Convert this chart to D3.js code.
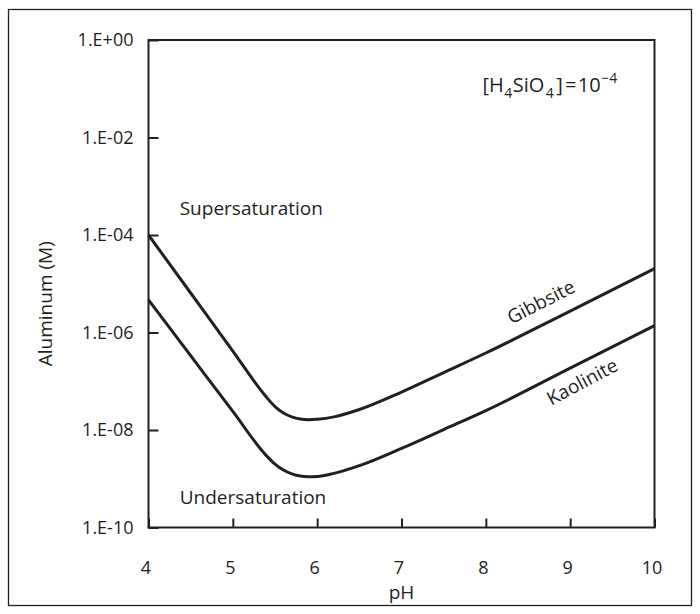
<!DOCTYPE html>
<html>
<head>
<meta charset="utf-8">
<script src="https://cdn.jsdelivr.net/npm/d3@7"></script>
<style>
  body { margin: 0; background: #fff; }
  svg text { font-family: "Open Sans", "Noto Sans", sans-serif; fill: #231f20; }
</style>
</head>
<body>
<div id="chart"></div>
<script>
// 차트 크기
const width = 700;
const height = 614;
const ink = "#231f20";

// 데이터
const pH = [4, 4.5, 5, 5.4, 5.5, 5.6, 5.7, 5.8, 5.9, 6, 6.2, 6.5, 7, 7.5, 8, 9, 10];
const gibbsite = [1.0e-4, 6.46e-6, 4.17e-7, 4.68e-8, 3.02e-8, 2.24e-8, 1.86e-8, 1.68e-8, 1.62e-8, 1.66e-8, 1.86e-8, 2.63e-8, 6.0e-8, 1.51e-7, 3.8e-7, 2.75e-6, 2.04e-5];
const kaolinite = [4.68e-6, 3.35e-7, 2.4e-8, 2.95e-9, 2.0e-9, 1.51e-9, 1.26e-9, 1.135e-9, 1.1e-9, 1.11e-9, 1.29e-9, 1.86e-9, 4.2e-9, 1.02e-8, 2.5e-8, 1.86e-7, 1.38e-6];

const xTicks = [4, 5, 6, 7, 8, 9, 10];
const yTicks = [1, 1e-2, 1e-4, 1e-6, 1e-8, 1e-10];
const yTickLabels = ["1.E+00", "1.E-02", "1.E-04", "1.E-06", "1.E-08", "1.E-10"];

// 곡선 라벨 위치 [pH, Al]
const gibbsiteLabel = [8.69, 3.2e-6];
const kaoliniteLabel = [9.18, 7.4e-8];
const superLabel = [4.37, 2.6e-4];
const underLabel = [4.37, 3.0e-10];
const silicaLabel = [7.96, 8.7e-2];

// 플롯 영역
const plotLeft = 148.5, plotRight = 654.5, plotTop = 40, plotBottom = 527.5;

const svg = d3.select("#chart")
    .append("svg")
    .attr("width", width)
    .attr("height", height);

// 바깥 테두리
svg.append("rect")
    .attr("x", 8.5).attr("y", 9.5)
    .attr("width", 683).attr("height", 596)
    .attr("fill", "none")
    .attr("stroke", ink)
    .attr("stroke-width", 1.3);

const x = d3.scaleLinear().domain([4, 10]).range([plotLeft, plotRight]);
const y = d3.scaleLog().domain([1e-10, 1]).range([plotBottom, plotTop]);

// x 축
const xAxis = svg.append("g")
    .attr("transform", `translate(0, ${plotBottom})`)
    .call(d3.axisBottom(x).tickValues(xTicks).tickFormat(d3.format("d"))
        .tickSizeInner(-9).tickSizeOuter(0).tickPadding(34));
xAxis.select(".domain").remove();
xAxis.selectAll("line").attr("stroke", ink).attr("stroke-width", 2);
xAxis.selectAll("text").style("font-size", "18px").attr("dx", "-3");

// y 축
const yAxis = svg.append("g")
    .attr("transform", `translate(${plotLeft}, 0)`)
    .call(d3.axisLeft(y).tickValues(yTicks)
        .tickFormat((d, i) => yTickLabels[i])
        .tickSizeInner(-10).tickSizeOuter(0).tickPadding(15));
yAxis.select(".domain").remove();
yAxis.selectAll("line").attr("stroke", ink).attr("stroke-width", 2);
yAxis.selectAll("text").style("font-size", "18px");

// 플롯 테두리
svg.append("rect")
    .attr("x", plotLeft).attr("y", plotTop)
    .attr("width", plotRight - plotLeft).attr("height", plotBottom - plotTop)
    .attr("fill", "none")
    .attr("stroke", ink)
    .attr("stroke-width", 2);

// 축 제목
svg.append("text")
    .attr("x", (plotLeft + plotRight) / 2)
    .attr("y", 599)
    .attr("text-anchor", "middle")
    .style("font-size", "19px")
    .text("pH");

svg.append("text")
    .attr("transform", `translate(52, ${(plotTop + plotBottom) / 2 + 20}) rotate(-90)`)
    .attr("text-anchor", "middle")
    .style("font-size", "19px")
    .text("Aluminum (M)");

// 곡선
const line = d3.line()
    .x((d, i) => x(pH[i]))
    .y(d => y(d))
    .curve(d3.curveMonotoneX);

[gibbsite, kaolinite].forEach(series => {
    svg.append("path")
        .datum(series)
        .attr("d", line)
        .attr("fill", "none")
        .attr("stroke", ink)
        .attr("stroke-width", 3)
        .attr("stroke-linejoin", "round");
});

// 곡선 라벨
svg.append("text")
    .attr("transform", `translate(${x(gibbsiteLabel[0])}, ${y(gibbsiteLabel[1])}) rotate(-27)`)
    .attr("text-anchor", "middle")
    .style("font-size", "19px")
    .text("Gibbsite");

svg.append("text")
    .attr("transform", `translate(${x(kaoliniteLabel[0])}, ${y(kaoliniteLabel[1])}) rotate(-28)`)
    .attr("text-anchor", "middle")
    .style("font-size", "19px")
    .text("Kaolinite");

// 영역 라벨
svg.append("text")
    .attr("x", x(superLabel[0])).attr("y", y(superLabel[1]))
    .style("font-size", "19px")
    .text("Supersaturation");

svg.append("text")
    .attr("x", x(underLabel[0])).attr("y", y(underLabel[1]))
    .style("font-size", "19px")
    .text("Undersaturation");

// [H4SiO4]=10^-4
const chem = svg.append("text")
    .attr("x", x(silicaLabel[0])).attr("y", y(silicaLabel[1]))
    .style("font-size", "20px");
chem.append("tspan").text("[H");
chem.append("tspan").attr("dy", 6).attr("dx", 0.5).style("font-size", "14px").text("4");
chem.append("tspan").attr("dy", -6).attr("dx", 0.5).text("SiO");
chem.append("tspan").attr("dy", 6).attr("dx", 1.5).style("font-size", "14px").text("4");
chem.append("tspan").attr("dy", -6).attr("dx", 2.5).text("]");
chem.append("tspan").attr("dx", 2).text("=");
chem.append("tspan").attr("dx", 1.5).text("10");
chem.append("tspan").attr("dy", -8.5).attr("dx", 0.5).style("font-size", "14px").text("\u22124");
</script>
</body>
</html>
